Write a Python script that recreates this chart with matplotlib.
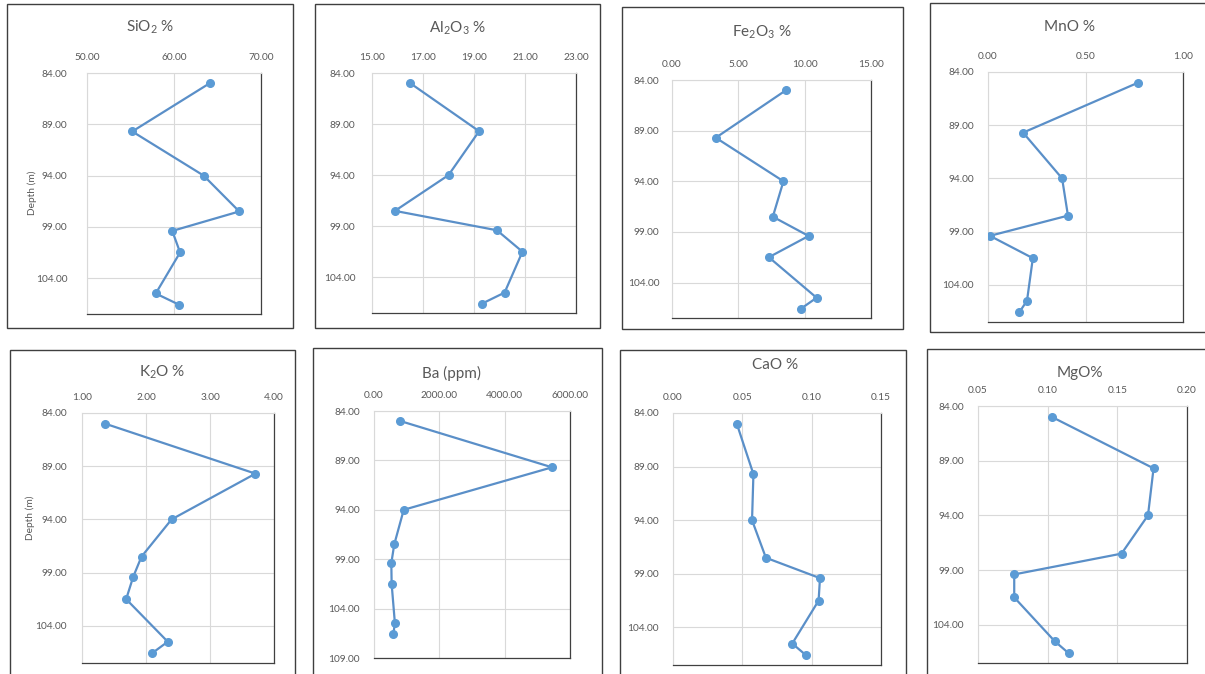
import matplotlib
matplotlib.use("Agg")
import matplotlib.pyplot as plt
from matplotlib.patches import Rectangle
from matplotlib.ticker import FixedLocator, FormatStrFormatter

plt.rcParams['font.family'] = ['Lato', 'DejaVu Sans']
plt.rcParams['mathtext.default'] = 'regular'

# Sample depths (m) shared by every profile
depth = [85.0, 89.7, 94.0, 97.5, 99.4, 101.5, 105.5, 106.6]

sio2 = [64.1, 55.2, 63.4, 67.5, 59.8, 60.7, 57.9, 60.6]
al2o3 = [16.5, 19.2, 18.0, 15.9, 19.9, 20.9, 20.2, 19.3]
fe2o3 = [8.6, 3.3, 8.4, 7.6, 10.3, 7.3, 10.9, 9.7]
mno = [0.77, 0.18, 0.38, 0.41, 0.01, 0.23, 0.20, 0.16]
k2o = [1.36, 3.71, 2.40, 1.93, 1.80, 1.69, 2.34, 2.09]
ba = [790, 5450, 910, 620, 530, 540, 640, 590]
cao = [0.046, 0.058, 0.057, 0.067, 0.106, 0.105, 0.086, 0.096]
mgo = [0.103, 0.176, 0.172, 0.153, 0.076, 0.076, 0.105, 0.115]

titles = ['SiO$_2$ %', 'Al$_2$O$_3$ %', 'Fe$_2$O$_3$ %', 'MnO %',
          'K$_2$O %', 'Ba (ppm)', 'CaO %', 'MgO%']
series = [sio2, al2o3, fe2o3, mno, k2o, ba, cao, mgo]
x_ticks = [[50, 60, 70], [15, 17, 19, 21, 23], [0, 5, 10, 15], [0, 0.5, 1.0],
           [1, 2, 3, 4], [0, 2000, 4000, 6000], [0, 0.05, 0.10, 0.15],
           [0.05, 0.10, 0.15, 0.20]]
depth_ticks = [84, 89, 94, 99, 104]
depth_ticks_ba = [84, 89, 94, 99, 104, 109]

W, H = 1205, 674
fig = plt.figure(figsize=(W / 100, H / 100), dpi=100)
fig.patch.set_facecolor('white')

# layout in pixels: chart frame (l, t, r, b), plot area (l, t, r, b),
# title centre (x, y), y tick pad
frames = [(7, 4, 293, 328), (315, 4, 600, 328), (622, 7, 903, 329), (930, 3, 1210, 332),
          (10, 350, 295, 690), (313, 348, 602, 690), (620, 350, 906, 690), (927, 349, 1210, 690)]
plots = [(87, 73, 261, 314), (372, 73, 576, 313), (672, 80, 871, 318), (988, 72, 1183, 322),
         (82, 413, 274, 663), (374, 411, 570, 658), (673, 413, 881, 665), (978, 406, 1187, 663)]
title_pos = [(150, 27), (457, 28), (762, 32), (1070, 27),
             (162, 372), (452, 373), (775, 365), (1080, 373)]
ypads = [14, 12, 9, 10, 11, 10, 10, 10]

grey = '#595959'
line_blue = '#5A8FC8'
marker_blue = '#5B9BD5'


def fx(px):
    return px / W


def fy(py):
    return 1 - py / H


for i in range(8):
    l, t, r, b = frames[i]
    fig.patches.append(Rectangle((fx(l), fy(b)), fx(r - l), (b - t) / H,
                                 transform=fig.transFigure, fill=False,
                                 edgecolor='#3f3f3f', linewidth=1.0, zorder=0))
    pl, pt, pr, pb = plots[i]
    ax = fig.add_axes([fx(pl), fy(pb), fx(pr - pl), (pb - pt) / H])
    ax.plot(series[i], depth, color=line_blue, linewidth=1.6, marker='o',
            markersize=5.5, markerfacecolor=marker_blue,
            markeredgecolor=marker_blue, zorder=3)
    xt = x_ticks[i]
    ax.set_xlim(xt[0], xt[-1])
    yt = depth_ticks_ba if i == 5 else depth_ticks
    ax.set_ylim(109 if i == 5 else 107.5, 84)
    ax.xaxis.set_major_locator(FixedLocator(xt))
    ax.yaxis.set_major_locator(FixedLocator(yt))
    ax.xaxis.set_major_formatter(FormatStrFormatter('%.2f'))
    ax.yaxis.set_major_formatter(FormatStrFormatter('%.2f'))
    ax.xaxis.tick_top()
    ax.tick_params(axis='x', length=0, pad=8, labelsize=7.3, labelcolor=grey)
    ax.tick_params(axis='y', length=0, pad=ypads[i], labelsize=7.3, labelcolor=grey)
    ax.grid(True, color='#D9D9D9', linewidth=0.8)
    ax.set_axisbelow(True)
    for side in ('top', 'left'):
        ax.spines[side].set_color('#D9D9D9')
        ax.spines[side].set_linewidth(0.8)
    for side in ('right', 'bottom'):
        ax.spines[side].set_color('#404040')
        ax.spines[side].set_linewidth(0.9)
    tx, ty = title_pos[i]
    fig.text(fx(tx), fy(ty), titles[i], ha='center', va='center',
             fontsize=11, color=grey)

fig.text(fx(32), fy(193), 'Depth (m)', rotation=90, ha='center', va='center',
         fontsize=7.3, color=grey)
fig.text(fx(30), fy(518), 'Depth (m)', rotation=90, ha='center', va='center',
         fontsize=7.3, color=grey)

fig.savefig('out.png', dpi=100, facecolor='white')
